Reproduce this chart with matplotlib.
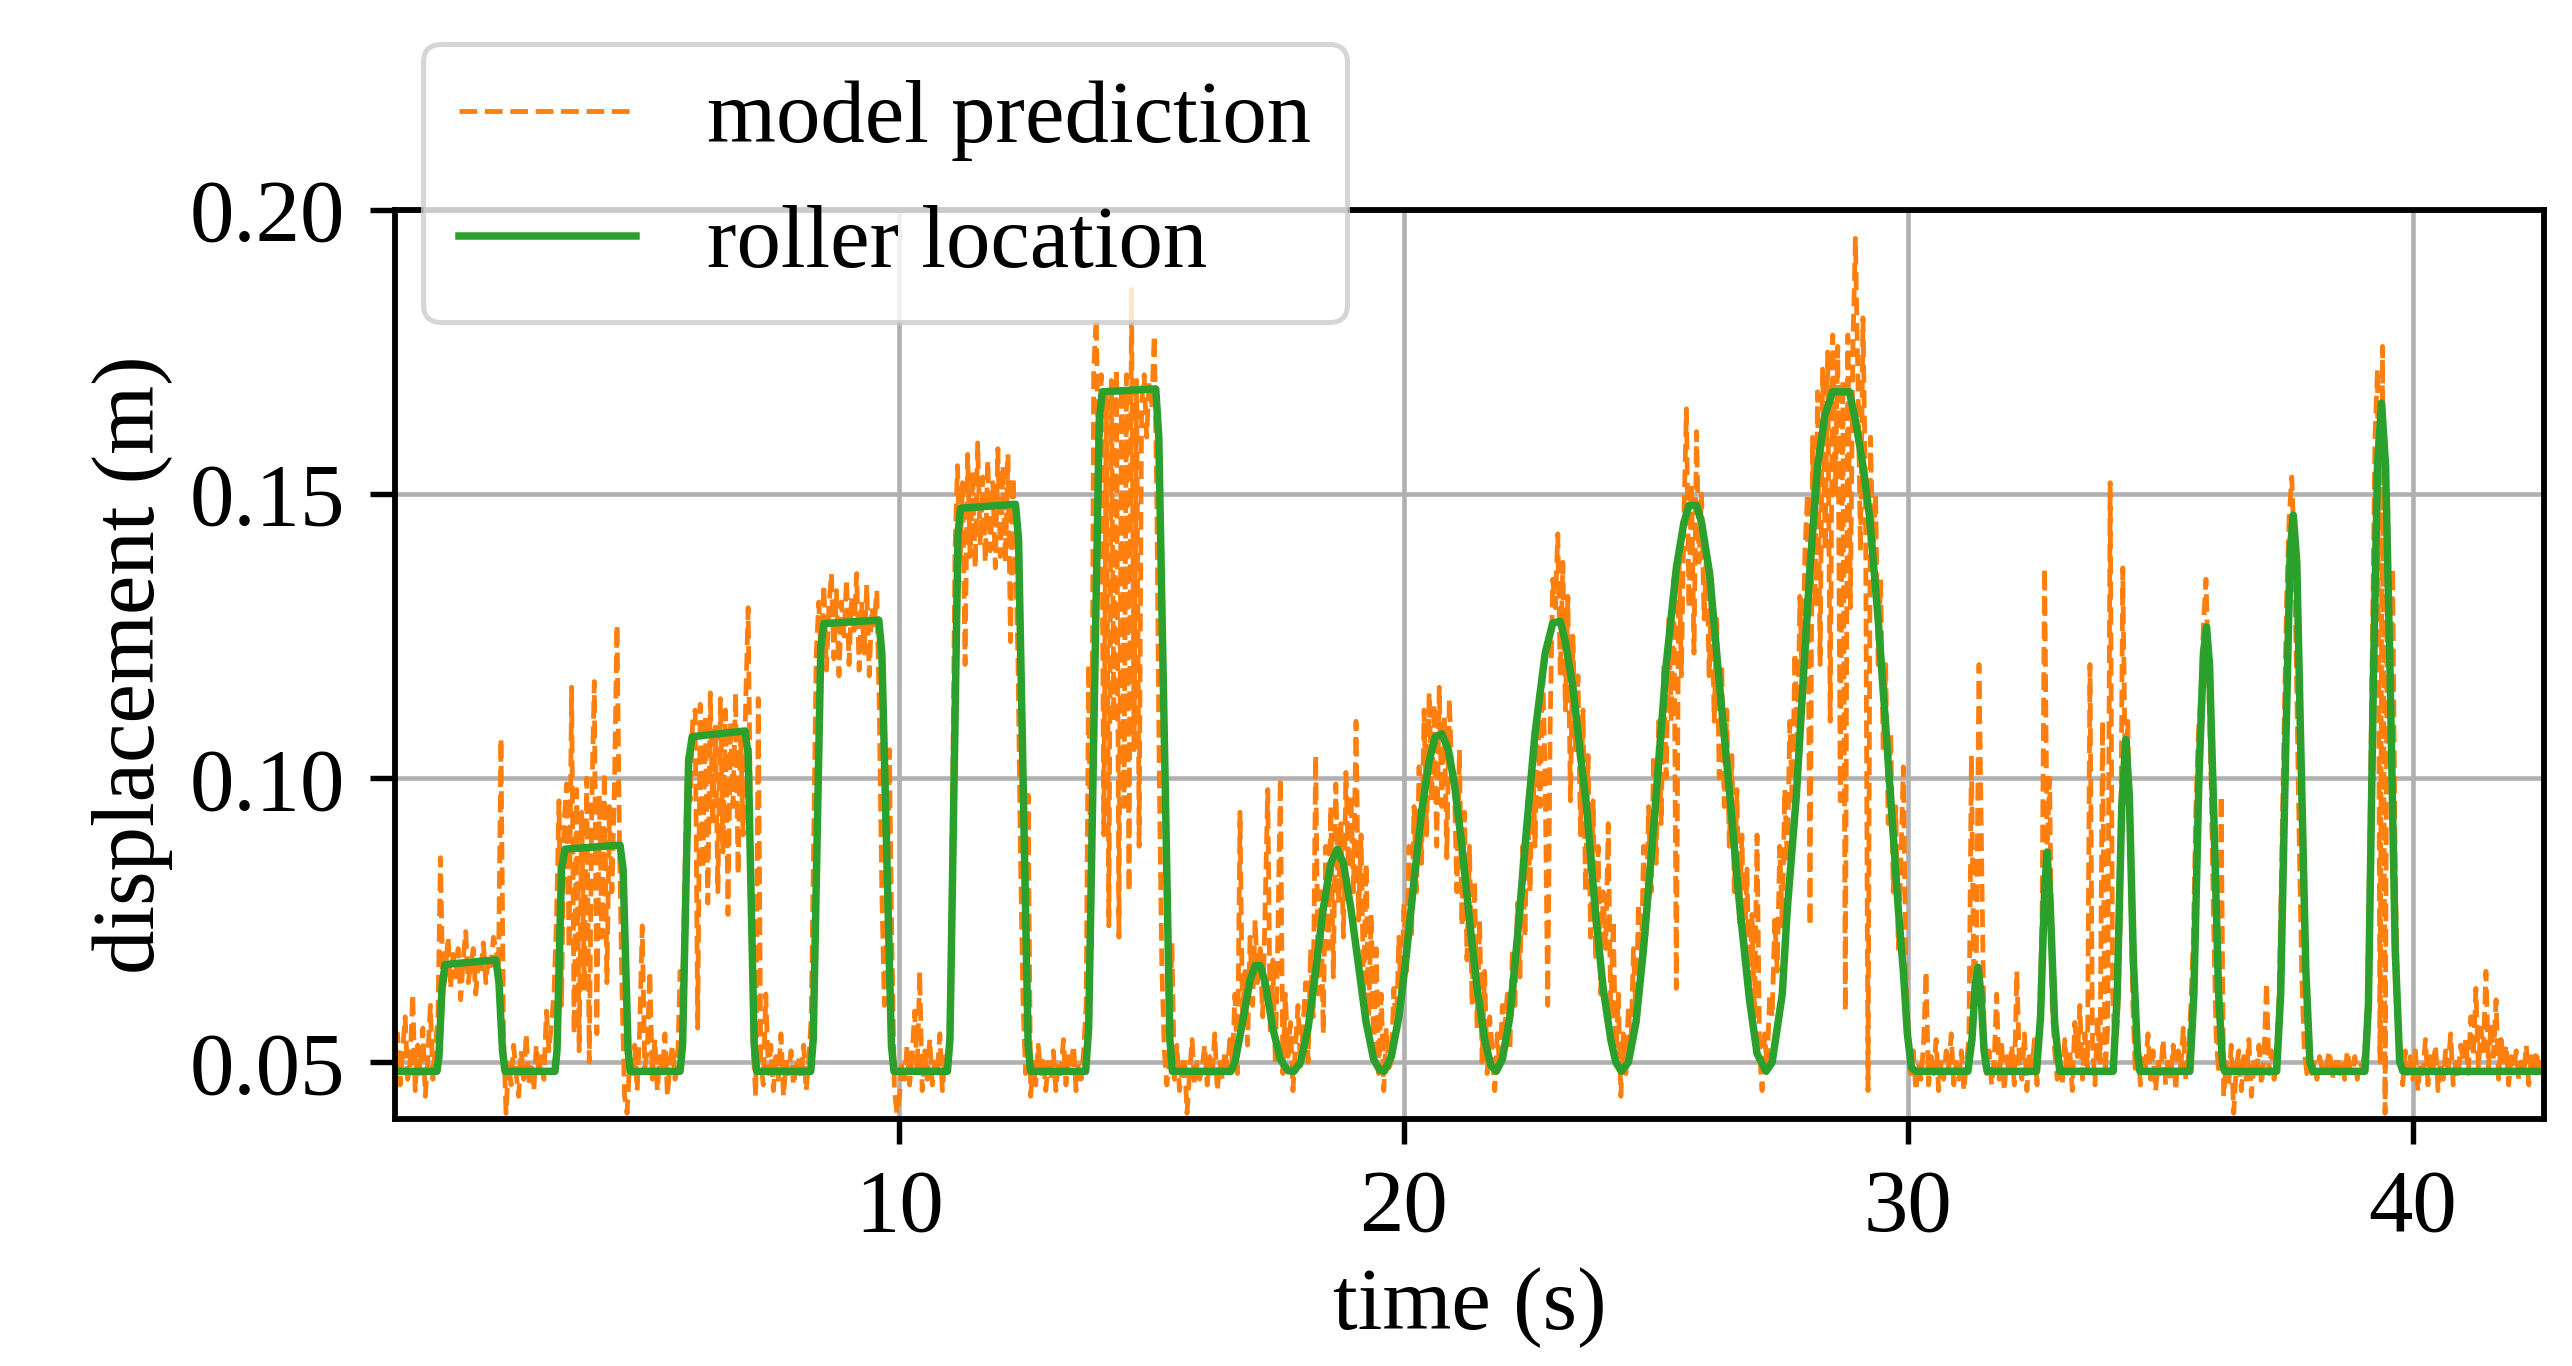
import numpy as np
import matplotlib
matplotlib.use("Agg")
import matplotlib.pyplot as plt

plt.rcParams['font.family'] = ['Liberation Serif', 'DejaVu Serif']
plt.rcParams['font.size'] = 21.3

# model prediction, sampled every 0.05 s, in mm (one row per second)
dt = 0.05
pred_mm = [
    49, 55, 46, 52, 58, 47, 50, 62, 45, 53, 48, 56, 44, 51, 60, 47, 53, 58, 86, 62,
    66, 72, 63, 69, 65, 70, 61, 68, 73, 64, 67, 70, 62, 68, 66, 71, 64, 69, 67, 72,
    70, 66, 107, 55, 41, 50, 46, 53, 48, 44, 52, 47, 55, 46, 50, 45, 53, 48, 51, 47,
    59, 52, 57, 62, 75, 96, 60, 92, 99, 70, 116, 55, 98, 52, 94, 63, 100, 50, 96, 117,
    55, 97, 72, 101, 64, 95, 80, 99, 127, 88, 62, 44, 41, 50, 47, 53, 45, 56, 74, 49,
    52, 66, 47, 54, 45, 51, 48, 55, 44, 50, 53, 47, 49, 66, 62, 85, 104, 96, 110, 112,
    56, 113, 84, 111, 78, 115, 92, 109, 80, 114, 87, 112, 76, 110, 95, 115, 83, 108, 90, 113,
    130, 88, 52, 44, 114, 50, 46, 62, 48, 53, 45, 51, 47, 55, 44, 50, 48, 52, 46, 49,
    51, 47, 53, 45, 50, 58, 90, 122, 131, 120, 134, 119, 130, 136, 121, 133, 118, 131, 125, 135,
    120, 132, 126, 136, 119, 131, 122, 134, 118, 130, 127, 133, 112, 80, 60, 75, 105, 70, 45, 41,
    44, 50, 47, 53, 46, 51, 59, 48, 66, 45, 52, 47, 54, 46, 50, 48, 55, 45, 51, 49,
    60, 95, 140, 155, 138, 152, 120, 157, 139, 154, 137, 159, 141, 153, 138, 156, 140, 152, 137, 158,
    139, 155, 138, 157, 124, 153, 140, 120, 85, 60, 48, 97, 44, 50, 46, 53, 48, 51, 45, 50,
    47, 52, 45, 50, 48, 54, 46, 51, 49, 53, 45, 50, 47, 52, 60, 120, 70, 172, 181, 150,
    171, 90, 168, 74, 170, 110, 172, 72, 169, 95, 171, 80, 186, 105, 170, 88, 166, 171, 160, 170,
    165, 178, 150, 100, 67, 52, 46, 50, 71, 47, 53, 45, 49, 51, 41, 48, 54, 46, 50, 47,
    49, 53, 46, 51, 48, 55, 45, 50, 47, 52, 49, 54, 50, 62, 48, 94, 58, 66, 53, 72,
    60, 75, 64, 70, 58, 78, 98, 55, 68, 50, 72, 100, 48, 62, 51, 57, 45, 53, 60, 49,
    56, 64, 50, 70, 58, 104, 62, 80, 55, 88, 70, 95, 65, 99, 78, 92, 72, 101, 84, 97,
    80, 110, 75, 90, 62, 85, 58, 76, 52, 70, 48, 62, 45, 56, 49, 50, 63, 55, 72, 60,
    78, 66, 88, 72, 95, 80, 102, 85, 112, 90, 115, 96, 113, 88, 116, 95, 111, 86, 114, 100,
    98, 80, 105, 74, 94, 68, 88, 60, 82, 56, 75, 50, 66, 48, 58, 52, 45, 55, 49, 60,
    56, 62, 52, 70, 60, 78, 65, 88, 72, 96, 80, 104, 88, 113, 95, 120, 100, 60, 110, 135,
    130, 143, 118, 138, 112, 132, 96, 125, 105, 118, 90, 112, 80, 104, 72, 96, 68, 88, 62, 80,
    70, 92, 58, 75, 50, 62, 44, 55, 48, 60, 52, 70, 58, 78, 64, 88, 72, 95, 80, 104,
    85, 110, 92, 120, 100, 128, 110, 135, 63, 140, 118, 146, 165, 130, 152, 122, 161, 138, 150, 128,
    140, 118, 135, 110, 128, 100, 120, 95, 112, 88, 104, 80, 98, 74, 90, 68, 84, 62, 76, 58,
    90, 52, 45, 55, 49, 62, 58, 75, 66, 88, 74, 98, 85, 110, 95, 122, 104, 132, 115, 140,
    150, 74, 160, 130, 168, 120, 172, 140, 175, 110, 178, 150, 176, 96, 170, 59, 178, 130, 176, 195,
    170, 140, 181, 150, 45, 160, 138, 150, 120, 135, 105, 120, 92, 108, 80, 95, 70, 85, 102, 66,
    55, 48, 52, 45, 50, 47, 53, 66, 46, 51, 48, 54, 45, 50, 47, 52, 49, 55, 46, 50,
    47, 52, 45, 50, 54, 104, 62, 70, 120, 87, 55, 48, 52, 46, 50, 62, 47, 53, 45, 51,
    48, 53, 46, 66, 50, 47, 55, 45, 52, 49, 54, 46, 58, 75, 137, 88, 100, 60, 52, 47,
    50, 46, 54, 48, 52, 45, 57, 51, 60, 47, 55, 49, 120, 53, 46, 58, 50, 110, 48, 56,
    152, 62, 52, 58, 75, 137, 100, 110, 85, 60, 48, 53, 46, 51, 49, 55, 47, 52, 45, 50,
    48, 54, 46, 51, 47, 53, 45, 52, 49, 56, 47, 51, 60, 72, 95, 108, 115, 127, 135, 118,
    100, 75, 55, 48, 97, 44, 50, 46, 53, 41, 49, 52, 45, 51, 47, 54, 44, 50, 48, 53,
    46, 51, 64, 48, 52, 47, 52, 62, 85, 110, 132, 146, 153, 140, 115, 88, 65, 52, 48, 49,
    48, 50, 47, 51, 49, 48, 50, 52, 47, 49, 51, 48, 50, 47, 52, 49, 48, 51, 47, 50,
    49, 52, 60, 90, 125, 160, 172, 50, 176, 41, 150, 110, 137, 85, 60, 50, 46, 52, 48, 51,
    47, 52, 45, 50, 48, 54, 46, 51, 49, 53, 45, 50, 47, 52, 49, 55, 46, 50, 48, 53,
    50, 54, 48, 58, 51, 63, 49, 56, 52, 66, 49, 57, 51, 61, 47, 54, 50, 53, 46, 51,
    49, 52, 47, 50, 48, 53, 46, 51, 49, 52, 48, 50, 49,
]

# measured roller location: breakpoints (s) and height (mm)
roller_t = [
    0.0, 0.83, 0.87, 0.93, 0.99, 2.0, 2.06, 2.13, 2.18,
    3.17, 3.21, 3.3, 3.37, 4.46, 4.52, 4.62, 4.66,
    5.65, 5.7, 5.82, 5.89, 6.94, 7.0, 7.12, 7.17,
    8.24, 8.29, 8.44, 8.5, 9.59, 9.65, 9.84, 9.89,
    10.95, 11.0, 11.16, 11.21, 12.3, 12.36, 12.55, 12.6,
    13.69, 13.75, 13.96, 14.02, 15.08, 15.14, 15.36, 15.41,
    16.57, 16.65, 16.8, 16.95, 17.05, 17.15, 17.25, 17.4, 17.55, 17.7, 17.82,
    17.95, 18.1, 18.25, 18.4, 18.55, 18.68, 18.8, 18.95, 19.1, 19.25, 19.4, 19.52, 19.61,
    19.75, 19.9, 20.05, 20.2, 20.35, 20.5, 20.62, 20.75, 20.88, 21.0, 21.15, 21.3, 21.45, 21.6, 21.72, 21.83,
    21.95, 22.1, 22.25, 22.42, 22.6, 22.8, 22.95, 23.1, 23.2, 23.35, 23.5, 23.62, 23.8, 23.95, 24.1, 24.2, 24.31,
    24.45, 24.6, 24.75, 24.9, 25.0, 25.2, 25.4, 25.55, 25.65, 25.8, 25.9, 26.06, 26.25, 26.46, 26.65, 26.85, 27.0, 27.18,
    27.3, 27.5, 27.6, 27.78, 27.9, 28.05, 28.2, 28.35, 28.5, 28.83, 28.95, 29.1, 29.23, 29.4, 29.56, 29.7, 29.8, 29.9, 29.98, 30.06, 30.15,
    31.18, 31.26, 31.33, 31.38, 31.44, 31.5, 31.56,
    32.54, 32.62, 32.7, 32.75, 32.81, 32.9, 33.0,
    34.06, 34.14, 34.23, 34.31, 34.38, 34.46, 34.54, 34.59,
    35.58, 35.66, 35.76, 35.85, 35.91, 35.97, 36.05, 36.15, 36.23, 36.27,
    37.3, 37.38, 37.48, 37.57, 37.63, 37.7, 37.78, 37.88, 37.96, 38.02,
    39.05, 39.12, 39.22, 39.3, 39.38, 39.46, 39.55, 39.65, 39.74, 39.81,
    42.6,
]
roller_mm = [
    48.4, 48.4, 51, 63, 67.2, 68, 64, 52, 48.4,
    48.4, 52, 84, 87.5, 88.2, 84, 52, 48.4,
    48.4, 53, 103, 107.3, 108.3, 104, 53, 48.4,
    48.4, 54, 123, 127.2, 127.8, 122, 53, 48.4,
    48.4, 54, 143, 147.5, 148.2, 142, 53, 48.4,
    48.4, 56, 163, 168, 168.5, 160, 54, 48.4,
    48.4, 50, 57, 64.5, 67, 67, 64, 56, 50.5, 48.5, 48.4,
    50, 56, 66, 77, 85, 87.5, 85, 77, 67, 57, 50.5, 48.6, 48.4,
    51, 58, 69, 82, 94, 103, 107.3, 107.8, 105, 99, 88, 75, 63, 54, 49.5, 48.4,
    50.5, 58, 72, 90, 108, 122, 127.3, 127.6, 124, 116, 104, 95, 76, 63, 54, 50, 48.4,
    50, 57, 70, 86, 97, 120, 137, 145, 148, 148, 145, 136, 117, 97, 78, 61, 51.5, 48.4,
    50, 62, 77, 97, 115, 137, 155, 164, 168, 168, 163, 155, 146, 128, 108, 90, 77, 66, 55, 49, 48.4,
    48.4, 54, 64, 66.7, 62, 52, 48.4,
    48.4, 58, 80, 87, 78, 57, 48.4,
    48.4, 62, 95, 106.8, 97, 68, 52, 48.4,
    48.4, 62, 100, 122, 126.6, 120, 95, 62, 49.5, 48.4,
    48.4, 62, 105, 140, 146.3, 138, 105, 66, 50, 48.4,
    48.4, 60, 118, 155, 166, 155, 118, 70, 50, 48.4,
    48.4,
]

t_pred = np.arange(len(pred_mm)) * dt
pred = np.array(pred_mm) / 1000.0
roller = np.array(roller_mm) / 1000.0

fig = plt.figure(figsize=(2572 / 300, 1366 / 300), dpi=300)
ax = fig.add_axes([0.1536, 0.1808, 0.9891 - 0.1536, 0.8463 - 0.1808])

ax.plot(t_pred, pred, '--', color='tab:orange', lw=1.15, label='model prediction')
ax.plot(roller_t, roller, '-', color='tab:green', lw=1.8, label='roller location')

ax.set_xlim(0, 42.6)
ax.set_ylim(0.04, 0.20)
ax.set_xticks([10, 20, 30, 40])
ax.set_yticks([0.05, 0.10, 0.15, 0.20])
ax.grid(True, color='#b0b0b0', lw=1.1)
ax.set_xlabel('time (s)')
ax.set_ylabel('displacement (m)')

for sp in ax.spines.values():
    sp.set_linewidth(1.4)
ax.tick_params(length=6, width=1.3, pad=6)

leg = ax.legend(loc='upper left', bbox_to_anchor=(423 / 2572, 1 - 44 / 1366),
                bbox_transform=fig.transFigure, borderaxespad=0)
leg.get_frame().set_linewidth(1.2)

fig.savefig('out.png', dpi=300)
plt.close(fig)
